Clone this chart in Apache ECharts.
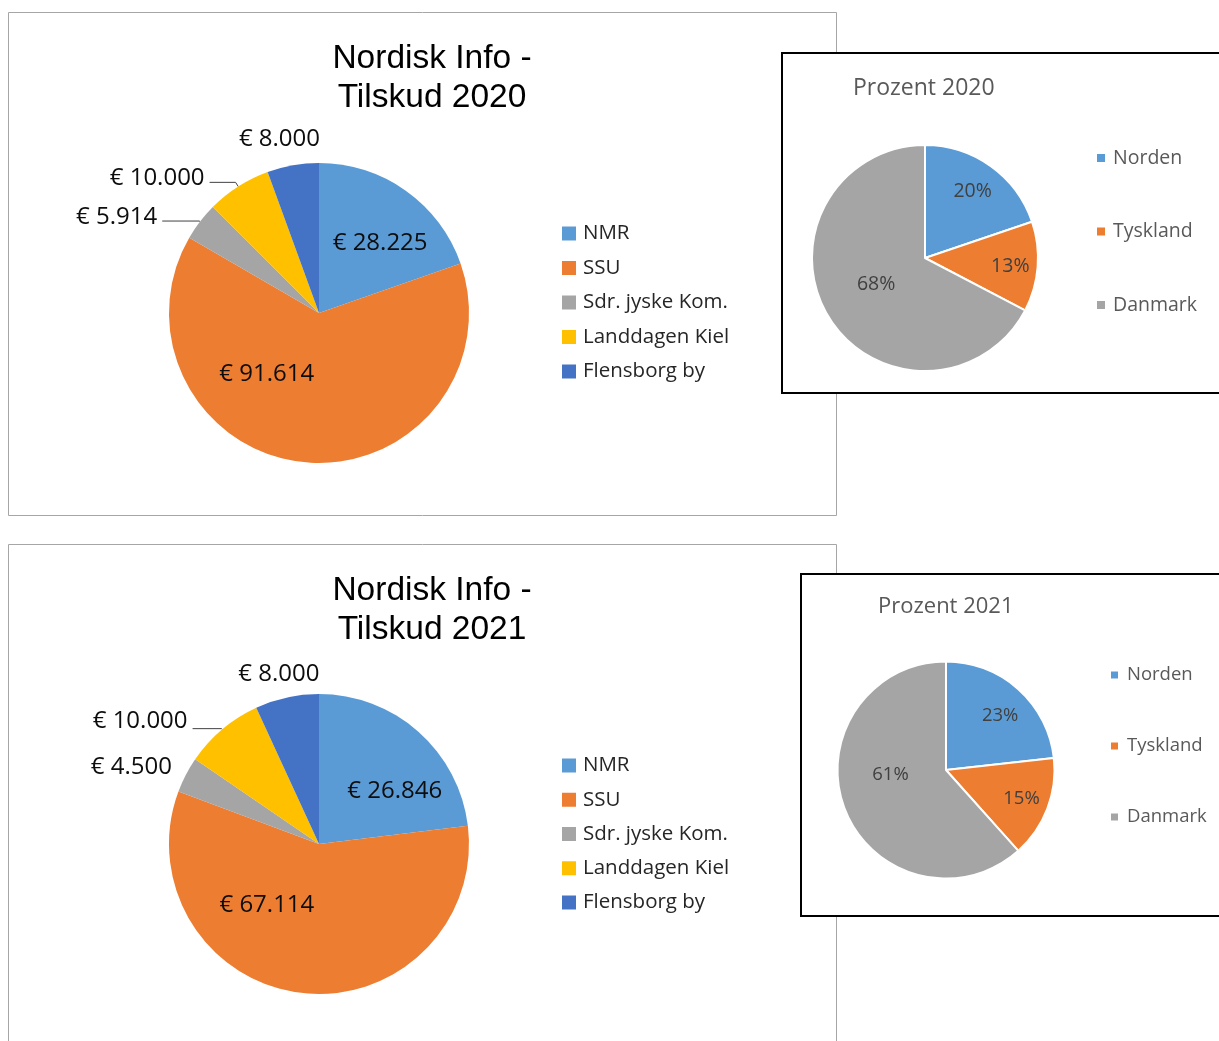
<!DOCTYPE html>
<html>
<head>
<meta charset="utf-8">
<title>Nordisk Info - Tilskud</title>
<script src="https://cdn.jsdelivr.net/npm/echarts@6/dist/echarts.min.js"></script>
<style>
  html, body { margin: 0; padding: 0; background: #fff; }
  #chart { width: 1219px; height: 1041px; }
</style>
</head>
<body>
<div id="chart"></div>
<script>
var sources = ['NMR', 'SSU', 'Sdr. jyske Kom.', 'Landdagen Kiel', 'Flensborg by'];
var tilskud2020 = [28225, 91614, 5914, 10000, 8000];
var tilskud2021 = [26846, 67114, 4500, 10000, 8000];
var regions = ['Norden', 'Tyskland', 'Danmark'];
var prozent2020 = [20, 13, 68];
var prozent2021 = [23, 15, 61];

var sourceColors = ['#5b9bd5', '#ed7d31', '#a5a5a5', '#ffc000', '#4472c4'];
var regionColors = ['#5b9bd5', '#ed7d31', '#a5a5a5'];

// label placement tweaks, to get close to Excel's "best fit"
var mainTweak2020 = [
    { inside: true, dx: 16, dy: -6 },
    { inside: true, dx: -45, dy: -16 },
    { len: 1, len2: 37, dy: -4 },
    { len: 5, len2: 26, dy: -4 },
    { len: 28, len2: 0, noLine: true, dx: 37, dy: 1 }
];
var mainTweak2021 = [
    { inside: true, dx: 24, dy: 6 },
    { inside: true, dx: -43, dy: -16 },
    { len: 10, len2: 0, noLine: true, dy: -3 },
    { len: 1, len2: 29, dy: -7 },
    { len: 25, len2: 0, noLine: true, dx: 43, dy: 1 }
];
var smallTweak2020 = [{ dx: 13, dy: -18 }, { dx: 26, dy: 4 }, { dx: 2, dy: -4 }];
var smallTweak2021 = [{ dx: 16, dy: -12 }, { dx: 22, dy: 8 }, { dx: -2, dy: -16 }];

function euro(v) {
    return '€ ' + String(v).replace(/\B(?=(\d{3})+(?!\d))/g, '.');
}

function mainData(values, tweak) {
    return values.map(function (v, i) {
        var t = tweak[i];
        return {
            name: sources[i],
            value: v,
            itemStyle: { color: sourceColors[i] },
            label: { position: t.inside ? 'inside' : 'outside' },
            labelLine: {
                show: !t.inside && !t.noLine,
                length: t.len || 0,
                length2: t.len2 || 0
            }
        };
    });
}

function smallData(values) {
    return values.map(function (v, i) {
        return { name: regions[i], value: v, itemStyle: { color: regionColors[i] } };
    });
}

function shift(tweak) {
    return function (p) {
        var t = tweak[p.dataIndex];
        if (t && (t.dx || t.dy)) return { dx: t.dx || 0, dy: t.dy || 0 };
        return {};
    };
}

function mainPie(center, values, tweak) {
    return {
        type: 'pie',
        radius: 150,
        center: center,
        avoidLabelOverlap: false,
        animation: false,
        label: {
            formatter: function (p) { return euro(p.value); },
            fontFamily: 'Open Sans',
            fontSize: 24,
            color: '#0d0d0d'
        },
        labelLine: { lineStyle: { color: '#404040', width: 1 } },
        labelLayout: shift(tweak),
        data: mainData(values, tweak)
    };
}

function smallPie(center, r, values, tweak, fs) {
    return {
        type: 'pie',
        radius: r,
        center: center,
        avoidLabelOverlap: false,
        animation: false,
        itemStyle: { borderColor: '#fff', borderWidth: 2 },
        label: {
            position: 'inside',
            formatter: '{c}%',
            fontFamily: 'Open Sans',
            fontSize: fs,
            color: '#404040'
        },
        labelLayout: shift(tweak),
        data: smallData(values)
    };
}

function mainTitle(text, top) {
    return {
        text: text,
        left: 432,
        top: top,
        textAlign: 'center',
        padding: 0,
        textStyle: { fontFamily: 'Liberation Sans', fontSize: 33.5, fontWeight: 'normal', color: '#000', lineHeight: 39 }
    };
}

function smallTitle(text, left, top, fs) {
    return {
        text: text,
        left: left,
        top: top,
        padding: 0,
        textStyle: { fontFamily: 'Open Sans', fontSize: fs, fontWeight: 'normal', color: '#595959', lineHeight: fs }
    };
}

function legend(names, left, top, gap, size, fs, color, pad) {
    return {
        orient: 'vertical',
        left: left,
        top: top,
        padding: 0,
        itemGap: gap,
        itemWidth: size,
        itemHeight: size,
        icon: 'rect',
        data: names,
        textStyle: { fontFamily: 'Open Sans', fontSize: fs, lineHeight: 20, color: color, padding: [0, 0, 0, pad] }
    };
}

var myChart = echarts.init(document.getElementById('chart'));
var option = {
    backgroundColor: '#fff',
    animation: false,
    graphic: [
        { type: 'rect', z: 0, shape: { x: 8.5, y: 12.5, width: 828, height: 503 }, style: { fill: '#fff', stroke: '#a6a6a6', lineWidth: 1 } },
        { type: 'rect', z: 0, shape: { x: 8.5, y: 544.5, width: 828, height: 600 }, style: { fill: '#fff', stroke: '#a6a6a6', lineWidth: 1 } },
        { type: 'rect', z: 1, shape: { x: 782, y: 53, width: 480, height: 340 }, style: { fill: '#fff', stroke: '#000', lineWidth: 2 } },
        { type: 'rect', z: 1, shape: { x: 801, y: 574, width: 460, height: 342 }, style: { fill: '#fff', stroke: '#000', lineWidth: 2 } }
    ],
    title: [
        mainTitle('Nordisk Info -\nTilskud 2020', 39.5),
        mainTitle('Nordisk Info -\nTilskud 2021', 571.5),
        smallTitle('Prozent 2020', 853, 76.5, 23),
        smallTitle('Prozent 2021', 878, 596, 22)
    ],
    legend: [
        legend(sources, 562, 223, 13.5, 14, 20.5, '#262626', 2),
        legend(sources, 562, 755, 13.25, 14, 20.5, '#262626', 2),
        legend(regions, 1095, 148, 53.5, 10, 19.5, '#595959', 2),
        legend(regions, 1109, 665, 51, 9, 18.5, '#595959', 3)
    ],
    series: [
        mainPie([319, 313], tilskud2020, mainTweak2020),
        mainPie([319, 844], tilskud2021, mainTweak2021),
        smallPie([925, 258], 113, prozent2020, smallTweak2020, 19.5),
        smallPie([946, 770], 108.5, prozent2021, smallTweak2021, 18.5)
    ]
};
myChart.setOption(option);
</script>
</body>
</html>
